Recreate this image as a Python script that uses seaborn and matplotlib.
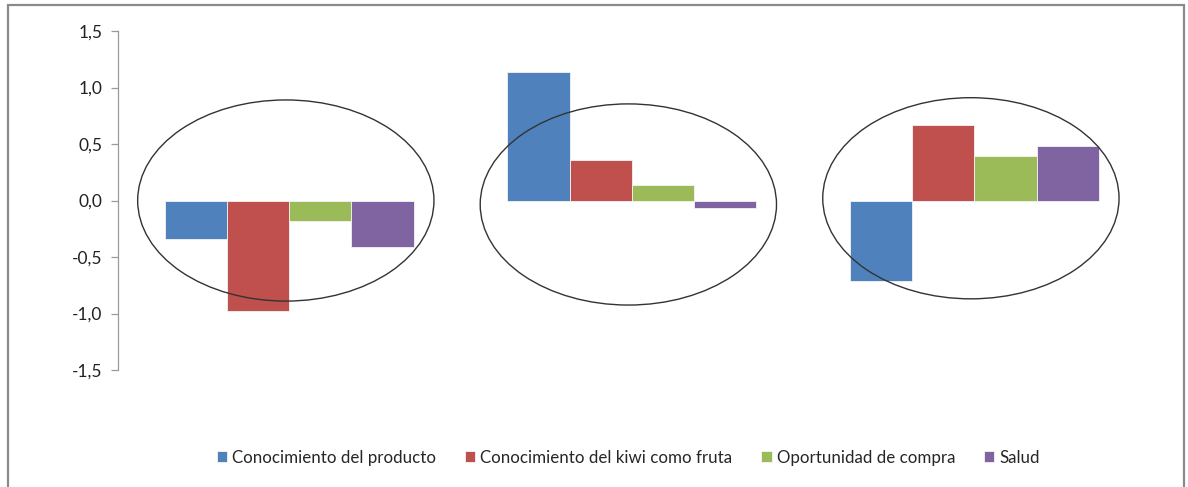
import matplotlib
matplotlib.use("Agg")
import matplotlib.pyplot as plt
from matplotlib.patches import Ellipse, Rectangle
from matplotlib.ticker import FuncFormatter
import seaborn as sns
import pandas as pd

# Factor scores per cluster
grupos = ["Grupo 1", "Grupo 2", "Grupo 3"]
series = ["Conocimiento del producto", "Conocimiento del kiwi como fruta",
          "Oportunidad de compra", "Salud"]
conocimiento_producto = [-0.34, 1.14, -0.71]
conocimiento_kiwi = [-0.98, 0.36, 0.67]
oportunidad_compra = [-0.18, 0.14, 0.39]
salud = [-0.41, -0.07, 0.48]
colores = ["#4F81BD", "#C0504D", "#9BBB59", "#8064A2"]

valores = [conocimiento_producto, conocimiento_kiwi, oportunidad_compra, salud]
df = pd.DataFrame([
    {"grupo": g, "factor": s, "valor": v}
    for s, vals in zip(series, valores)
    for g, v in zip(grupos, vals)
])

sns.set_theme(style="white")
plt.rcParams["font.family"] = ["Lato", "DejaVu Sans"]

fig = plt.figure(figsize=(11.88, 4.87), dpi=100)
ax = fig.add_axes([0.0993, 0.2402, 0.8650, 0.6961])

sns.barplot(data=df, x="grupo", y="valor", hue="factor", order=grupos,
            hue_order=series, palette=colores, width=0.727, saturation=1,
            edgecolor="#f4f4f4", linewidth=0.6, ax=ax, legend=True)

# Circle each cluster of bars
for cx, cy in [(-0.01, 0.0), (-0.01 + 1, -0.035), (-0.01 + 2, 0.02)]:
    ax.add_patch(Ellipse((cx, cy), 0.865, 1.78, fill=False,
                         edgecolor="#333333", linewidth=1.0, zorder=5))

ax.set_ylim(-1.5, 1.5)
ax.set_xlim(-0.5, 2.5)
ax.set_yticks([-1.5, -1.0, -0.5, 0.0, 0.5, 1.0, 1.5])
ax.yaxis.set_major_formatter(FuncFormatter(lambda v, p: f"{v:.1f}".replace(".", ",")))
ax.set_xticks([])
ax.set_xlabel("")
ax.set_ylabel("")
for side in ["top", "right", "bottom"]:
    ax.spines[side].set_visible(False)
ax.spines["left"].set_color("#9a9a9a")
ax.spines["left"].set_linewidth(0.9)
ax.tick_params(axis="y", which="major", left=True, length=5, width=0.9,
               color="#9a9a9a", labelsize=12.5, labelcolor="#222222", pad=6)

handles, labels = ax.get_legend_handles_labels()
ax.legend_.remove()
fig.legend(handles, labels, loc="center", bbox_to_anchor=(0.529, 0.06),
           ncol=4, frameon=False, fontsize=12.2, handlelength=0.6,
           handleheight=0.6, handletextpad=0.3, columnspacing=1.7)

# Outer chart border (open at the bottom edge)
fig.patches.append(Rectangle((0.0065, -0.05), 0.9905, 1.04, transform=fig.transFigure,
                             fill=False, edgecolor="#8a8a8a", linewidth=1.6))

fig.savefig("out.png", dpi=100)
